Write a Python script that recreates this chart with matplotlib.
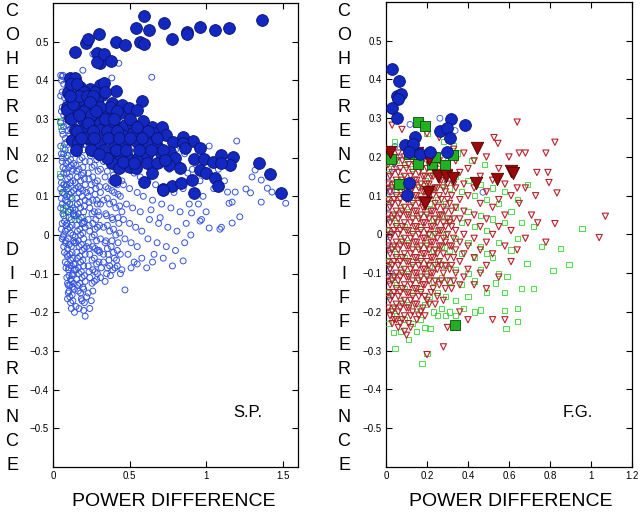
import numpy as np
import matplotlib
matplotlib.use("Agg")
import matplotlib.pyplot as plt

plt.rcParams['font.family'] = ['Liberation Sans', 'DejaVu Sans']

# ---------------- S.P. panel data (power diff, coherence diff) ----------------
sp_filled = [
    (0.143, 0.473), (0.215, 0.496), (0.23, 0.506), (0.30, 0.519), (0.286, 0.47),
    (0.31, 0.444), (0.286, 0.447), (0.33, 0.467), (0.378, 0.45), (0.41, 0.499),
    (0.47, 0.491), (0.54, 0.535), (0.593, 0.566), (0.63, 0.530), (0.566, 0.50),
    (0.593, 0.494), (0.723, 0.548), (0.78, 0.506), (0.876, 0.525), (0.876, 0.519),
    (0.957, 0.538), (1.055, 0.53), (1.148, 0.535), (1.367, 0.556),
    (0.11, 0.405), (0.143, 0.405), (0.10, 0.37), (0.176, 0.383), (0.241, 0.377),
    (0.306, 0.388), (0.332, 0.393), (0.41, 0.373), (0.319, 0.362), (0.13, 0.357),
    (0.195, 0.349), (0.286, 0.349), (0.384, 0.341), (0.45, 0.336), (0.58, 0.346),
    (0.091, 0.331), (0.156, 0.323), (0.228, 0.331), (0.286, 0.305), (0.35, 0.318),
    (0.436, 0.315), (0.495, 0.328), (0.547, 0.323), (0.11, 0.302), (0.195, 0.297),
    (0.241, 0.279), (0.306, 0.289), (0.39, 0.289), (0.47, 0.284), (0.52, 0.284),
    (0.586, 0.295), (0.645, 0.279), (0.71, 0.279), (0.143, 0.271), (0.208, 0.276),
    (0.306, 0.271), (0.384, 0.263), (0.45, 0.258), (0.52, 0.263), (0.586, 0.263),
    (0.651, 0.263), (0.736, 0.258), (0.124, 0.245), (0.163, 0.24), (0.234, 0.248),
    (0.306, 0.238), (0.404, 0.233), (0.47, 0.235), (0.547, 0.24), (0.612, 0.238),
    (0.677, 0.23), (0.782, 0.24), (0.847, 0.253), (0.912, 0.243), (0.847, 0.238),
    (0.371, 0.2), (0.436, 0.207), (0.489, 0.2), (0.554, 0.2), (0.612, 0.207),
    (0.704, 0.212), (0.762, 0.214), (0.80, 0.2), (0.86, 0.225), (0.92, 0.196),
    (0.957, 0.225), (0.984, 0.196), (1.044, 0.189), (1.10, 0.207), (1.173, 0.202),
    (1.153, 0.181), (1.10, 0.186), (0.384, 0.186), (0.43, 0.173), (0.50, 0.176),
    (0.54, 0.173), (0.612, 0.186), (0.677, 0.186), (0.756, 0.181), (0.827, 0.173),
    (0.957, 0.168), (1.0, 0.16), (0.645, 0.16), (0.404, 0.142), (0.593, 0.137),
    (0.717, 0.119), (0.78, 0.127), (0.834, 0.134), (0.906, 0.142), (0.919, 0.108),
    (1.055, 0.147), (1.075, 0.127), (1.348, 0.186), (1.414, 0.158), (1.49, 0.109),
    (0.091, 0.323), (0.221, 0.253), (0.274, 0.37), (0.717, 0.116),
    # dense core of the big-circle cluster
    (0.12, 0.39), (0.16, 0.39), (0.20, 0.37), (0.13, 0.34), (0.17, 0.36), (0.22, 0.36),
    (0.26, 0.36), (0.34, 0.37), (0.37, 0.33), (0.20, 0.32), (0.25, 0.31), (0.31, 0.33),
    (0.42, 0.32), (0.12, 0.30), (0.17, 0.31), (0.23, 0.29), (0.34, 0.30), (0.40, 0.30),
    (0.50, 0.30), (0.16, 0.27), (0.26, 0.27), (0.35, 0.27), (0.42, 0.27), (0.55, 0.28),
    (0.62, 0.27), (0.18, 0.25), (0.27, 0.25), (0.36, 0.25), (0.43, 0.25), (0.50, 0.25),
    (0.58, 0.25), (0.68, 0.25), (0.15, 0.22), (0.25, 0.22), (0.33, 0.22), (0.41, 0.22),
    (0.48, 0.22), (0.56, 0.22), (0.64, 0.22), (0.72, 0.22), (0.35, 0.20), (0.46, 0.19),
    (0.53, 0.185), (0.73, 0.195), (0.30, 0.21), (0.24, 0.345), (0.28, 0.32), (0.11, 0.36),
]

sp_open = [
    # x ~ 0.05-0.1
    (0.06, 0.41), (0.07, 0.39), (0.05, 0.36), (0.06, 0.33), (0.07, 0.31), (0.05, 0.29),
    (0.06, 0.27), (0.08, 0.25), (0.05, 0.23), (0.07, 0.21), (0.06, 0.19), (0.08, 0.17),
    (0.05, 0.15), (0.07, 0.13), (0.06, 0.11), (0.08, 0.09), (0.05, 0.07), (0.07, 0.05),
    (0.06, 0.03), (0.08, 0.01), (0.06, -0.01), (0.07, -0.03), (0.09, -0.05), (0.08, -0.07),
    (0.10, -0.09), (0.09, -0.11), (0.10, -0.13), (0.10, -0.15), (0.11, -0.16), (0.06, 0.37),
    (0.07, 0.28), (0.06, 0.20), (0.07, 0.16), (0.05, 0.12), (0.06, 0.08), (0.07, 0.0),
    (0.08, -0.02), (0.05, 0.413), (0.065, 0.413),
    (0.055, 0.40), (0.075, 0.355), (0.085, 0.34), (0.055, 0.32), (0.085, 0.30), (0.065, 0.26),
    (0.075, 0.235), (0.055, 0.21), (0.085, 0.185), (0.065, 0.175), (0.055, 0.135), (0.085, 0.125),
    (0.075, 0.105), (0.055, 0.095), (0.085, 0.075), (0.065, 0.055), (0.075, 0.035), (0.055, 0.015),
    (0.085, 0.025), (0.065, -0.005), (0.085, -0.015), (0.075, -0.045), (0.095, -0.035),
    (0.085, -0.085), (0.095, -0.075), (0.105, -0.105), (0.095, -0.125), (0.105, -0.145),
    (0.115, -0.175), (0.095, -0.165), (0.125, -0.155),
    # x ~ 0.08-0.14
    (0.09, 0.40), (0.11, 0.38), (0.10, 0.35), (0.12, 0.34), (0.09, 0.32), (0.11, 0.30),
    (0.13, 0.28), (0.10, 0.27), (0.12, 0.25), (0.09, 0.24), (0.11, 0.22), (0.13, 0.21),
    (0.10, 0.19), (0.12, 0.18), (0.09, 0.16), (0.11, 0.15), (0.13, 0.14), (0.10, 0.12),
    (0.12, 0.11), (0.09, 0.10), (0.11, 0.08), (0.13, 0.07), (0.10, 0.06), (0.12, 0.04),
    (0.09, 0.03), (0.11, 0.02), (0.13, 0.0), (0.10, -0.01), (0.12, -0.03), (0.11, -0.05),
    (0.13, -0.06), (0.12, -0.08), (0.13, -0.10), (0.12, -0.12), (0.14, -0.14), (0.13, -0.17),
    (0.14, -0.20), (0.12, -0.19), (0.11, -0.13), (0.14, -0.09), (0.09, 0.13), (0.13, 0.17),
    (0.11, 0.26), (0.14, 0.31), (0.08, 0.22), (0.14, 0.05), (0.14, -0.02),
    (0.095, 0.385), (0.105, 0.365), (0.125, 0.365), (0.115, 0.335), (0.135, 0.325),
    (0.105, 0.315), (0.125, 0.295), (0.095, 0.285), (0.115, 0.275), (0.135, 0.255),
    (0.105, 0.245), (0.125, 0.235), (0.095, 0.205), (0.115, 0.195), (0.135, 0.185),
    (0.105, 0.175), (0.125, 0.165), (0.095, 0.145), (0.115, 0.135), (0.135, 0.115),
    (0.105, 0.105), (0.125, 0.095), (0.095, 0.085), (0.115, 0.065), (0.135, 0.055),
    (0.105, 0.045), (0.125, 0.025), (0.095, 0.015), (0.115, 0.005), (0.135, -0.015),
    (0.105, -0.025), (0.125, -0.045), (0.095, -0.055), (0.115, -0.065), (0.135, -0.075),
    (0.105, -0.085), (0.125, -0.105), (0.115, -0.115), (0.135, -0.125), (0.125, -0.135),
    # x ~ 0.14-0.22
    (0.15, 0.39), (0.17, 0.37), (0.19, 0.38), (0.16, 0.35), (0.18, 0.33), (0.21, 0.34),
    (0.15, 0.31), (0.17, 0.29), (0.20, 0.30), (0.16, 0.27), (0.19, 0.26), (0.21, 0.25),
    (0.15, 0.24), (0.18, 0.23), (0.20, 0.22), (0.16, 0.21), (0.19, 0.20), (0.21, 0.19),
    (0.15, 0.18), (0.17, 0.17), (0.20, 0.16), (0.16, 0.15), (0.18, 0.14), (0.21, 0.13),
    (0.15, 0.12), (0.17, 0.11), (0.19, 0.10), (0.21, 0.09), (0.16, 0.08), (0.18, 0.07),
    (0.20, 0.06), (0.15, 0.05), (0.17, 0.04), (0.19, 0.03), (0.21, 0.02), (0.16, 0.01),
    (0.18, 0.0), (0.20, -0.01), (0.15, -0.02), (0.17, -0.03), (0.19, -0.04), (0.21, -0.05),
    (0.16, -0.06), (0.18, -0.07), (0.20, -0.08), (0.15, -0.09), (0.17, -0.10), (0.19, -0.11),
    (0.21, -0.12), (0.16, -0.13), (0.18, -0.15), (0.20, -0.14), (0.17, -0.19), (0.19, -0.17),
    (0.21, -0.21), (0.22, -0.16), (0.18, 0.12), (0.20, 0.03), (0.22, 0.11), (0.22, -0.03),
    (0.195, 0.426),
    (0.145, 0.365), (0.165, 0.33), (0.185, 0.355), (0.205, 0.32), (0.145, 0.29), (0.175, 0.275),
    (0.195, 0.285), (0.155, 0.255), (0.185, 0.245), (0.205, 0.235), (0.145, 0.215),
    (0.175, 0.195), (0.195, 0.175), (0.155, 0.165), (0.185, 0.155), (0.205, 0.145),
    (0.145, 0.135), (0.165, 0.125), (0.195, 0.115), (0.155, 0.095), (0.175, 0.085),
    (0.205, 0.075), (0.145, 0.065), (0.165, 0.055), (0.185, 0.045), (0.205, 0.035),
    (0.155, 0.025), (0.175, 0.015), (0.195, 0.005), (0.145, -0.005), (0.165, -0.015),
    (0.185, -0.025), (0.205, -0.035), (0.155, -0.045), (0.175, -0.055), (0.195, -0.065),
    (0.145, -0.075), (0.165, -0.085), (0.185, -0.095), (0.205, -0.105), (0.155, -0.115),
    (0.175, -0.125), (0.195, -0.135), (0.165, -0.145), (0.185, -0.165), (0.205, -0.175),
    (0.15, -0.185), (0.20, -0.195),
    # x ~ 0.22-0.32
    (0.23, 0.37), (0.26, 0.36), (0.29, 0.35), (0.24, 0.32), (0.27, 0.31), (0.31, 0.32),
    (0.23, 0.29), (0.26, 0.28), (0.29, 0.27), (0.25, 0.25), (0.28, 0.24), (0.31, 0.23),
    (0.23, 0.22), (0.26, 0.21), (0.30, 0.20), (0.24, 0.19), (0.27, 0.18), (0.31, 0.17),
    (0.23, 0.16), (0.26, 0.15), (0.29, 0.14), (0.25, 0.13), (0.28, 0.12), (0.31, 0.11),
    (0.23, 0.10), (0.26, 0.09), (0.29, 0.08), (0.24, 0.07), (0.27, 0.06), (0.30, 0.05),
    (0.23, 0.04), (0.26, 0.03), (0.29, 0.02), (0.24, 0.01), (0.27, 0.0), (0.31, -0.01),
    (0.23, -0.02), (0.26, -0.03), (0.29, -0.04), (0.24, -0.05), (0.27, -0.06), (0.30, -0.07),
    (0.23, -0.08), (0.26, -0.09), (0.29, -0.10), (0.24, -0.11), (0.27, -0.12), (0.31, -0.11),
    (0.23, -0.15), (0.25, -0.17), (0.24, -0.19), (0.28, 0.04), (0.31, 0.08), (0.30, -0.04),
    (0.26, 0.468),
    (0.245, 0.345), (0.275, 0.33), (0.235, 0.305), (0.265, 0.295), (0.295, 0.29), (0.245, 0.265),
    (0.275, 0.255), (0.305, 0.255), (0.235, 0.235), (0.265, 0.225), (0.295, 0.215),
    (0.245, 0.205), (0.285, 0.195), (0.255, 0.175), (0.295, 0.165), (0.235, 0.145),
    (0.275, 0.135), (0.305, 0.125), (0.245, 0.115), (0.275, 0.105), (0.235, 0.085),
    (0.285, 0.09), (0.255, 0.055), (0.295, 0.06), (0.235, 0.025), (0.275, 0.015),
    (0.305, 0.025), (0.255, -0.005), (0.285, -0.015), (0.235, -0.035), (0.275, -0.035),
    (0.305, -0.045), (0.255, -0.065), (0.285, -0.075), (0.235, -0.095), (0.275, -0.095),
    (0.315, -0.085), (0.255, -0.125), (0.285, -0.115), (0.26, -0.145),
    # x ~ 0.32-0.45
    (0.34, 0.30), (0.38, 0.28), (0.42, 0.29), (0.33, 0.26), (0.36, 0.25), (0.40, 0.24),
    (0.44, 0.25), (0.35, 0.22), (0.39, 0.21), (0.43, 0.20), (0.33, 0.19), (0.37, 0.18),
    (0.41, 0.17), (0.45, 0.18), (0.34, 0.15), (0.38, 0.14), (0.42, 0.13), (0.36, 0.12),
    (0.40, 0.11), (0.44, 0.10), (0.33, 0.09), (0.37, 0.08), (0.41, 0.07), (0.45, 0.06),
    (0.35, 0.05), (0.39, 0.04), (0.43, 0.03), (0.33, 0.02), (0.37, 0.01), (0.41, 0.0),
    (0.34, -0.02), (0.38, -0.03), (0.42, -0.04), (0.36, -0.05), (0.40, -0.06), (0.44, -0.05),
    (0.33, -0.07), (0.37, -0.08), (0.42, -0.08), (0.35, -0.10), (0.39, -0.09), (0.44, -0.10),
    (0.34, -0.12), (0.45, 0.14), (0.33, -0.05), (0.384, 0.406), (0.43, 0.444),
    (0.355, 0.28), (0.395, 0.26), (0.345, 0.235), (0.375, 0.225), (0.415, 0.215), (0.355, 0.195),
    (0.395, 0.185), (0.435, 0.165), (0.355, 0.165), (0.395, 0.155), (0.345, 0.125),
    (0.385, 0.115), (0.425, 0.105), (0.355, 0.095), (0.395, 0.085), (0.435, 0.075),
    (0.345, 0.055), (0.385, 0.045), (0.425, 0.045), (0.355, 0.025), (0.395, 0.015),
    (0.435, 0.005), (0.345, -0.015), (0.385, -0.015), (0.425, -0.02), (0.355, -0.035),
    (0.395, -0.045), (0.365, -0.065), (0.415, -0.065), (0.355, -0.085), (0.405, -0.085),
    (0.375, -0.105),
    # x ~ 0.45-0.6
    (0.47, 0.27), (0.52, 0.26), (0.57, 0.25), (0.46, 0.22), (0.50, 0.21), (0.55, 0.22),
    (0.59, 0.20), (0.48, 0.17), (0.53, 0.16), (0.57, 0.15), (0.46, 0.13), (0.50, 0.12),
    (0.55, 0.11), (0.59, 0.10), (0.48, 0.08), (0.52, 0.07), (0.57, 0.06), (0.46, 0.04),
    (0.50, 0.03), (0.54, 0.02), (0.58, 0.01), (0.47, -0.01), (0.51, -0.02), (0.55, -0.03),
    (0.49, -0.05), (0.53, -0.07), (0.58, -0.06), (0.45, -0.09), (0.51, -0.085), (0.47, -0.142),
    (0.55, -0.075), (0.645, 0.408),
    # x ~ 0.6-0.9
    (0.62, 0.24), (0.68, 0.23), (0.74, 0.27), (0.80, 0.22), (0.86, 0.21), (0.64, 0.19),
    (0.70, 0.18), (0.76, 0.17), (0.83, 0.18), (0.88, 0.16), (0.62, 0.14), (0.67, 0.13),
    (0.73, 0.12), (0.79, 0.11), (0.85, 0.12), (0.65, 0.09), (0.71, 0.08), (0.77, 0.07),
    (0.83, 0.06), (0.89, 0.08), (0.63, 0.04), (0.69, 0.03), (0.75, 0.02), (0.81, 0.01),
    (0.87, 0.03), (0.62, -0.01), (0.68, -0.02), (0.74, -0.03), (0.80, -0.04), (0.86, -0.02),
    (0.612, -0.085), (0.65, -0.07), (0.78, -0.08), (0.85, -0.067), (0.66, -0.05), (0.72, -0.06),
    (0.64, 0.065), (0.70, 0.045),
    # x ~ 0.9-1.55
    (0.91, 0.17), (0.96, 0.14), (1.02, 0.23), (0.98, 0.10), (1.05, 0.12), (1.09, 0.015),
    (1.10, 0.02), (1.02, 0.018), (0.97, 0.04), (0.905, 0.057), (1.14, 0.111), (1.15, 0.082),
    (1.17, 0.085), (1.19, 0.111), (1.20, 0.243), (1.22, 0.047), (1.26, 0.119), (1.29, 0.109),
    (1.30, 0.15), (1.32, 0.168), (1.36, 0.142), (1.36, 0.085), (1.40, 0.121), (1.43, 0.111),
    (1.52, 0.082), (1.17, 0.031), (0.96, 0.036), (0.90, 0.0), (0.93, 0.20), (1.08, 0.17),
    (0.95, 0.08), (1.00, 0.06), (1.12, 0.14), (1.06, 0.19),
]

sp_green = [
    (0.046, 0.297), (0.05, 0.28), (0.06, 0.225), (0.08, 0.20), (0.046, 0.16), (0.06, 0.11),
    (0.07, 0.13), (0.06, 0.07), (0.065, 0.065), (0.09, 0.12), (0.10, 0.06), (0.13, 0.057),
    (0.14, 0.04), (0.11, 0.10), (0.19, 0.047), (0.44, 0.285), (0.08, 0.05), (0.12, 0.08),
]

# ---------------- F.G. panel data ----------------
fg_blue_filled = [
    (0.03, 0.426), (0.063, 0.395), (0.053, 0.357), (0.073, 0.362), (0.058, 0.349),
    (0.03, 0.326), (0.053, 0.30), (0.317, 0.297), (0.385, 0.282), (0.263, 0.266),
    (0.298, 0.274), (0.312, 0.248), (0.141, 0.251), (0.093, 0.23), (0.132, 0.233),
    (0.112, 0.214), (0.166, 0.207), (0.215, 0.212), (0.298, 0.212), (0.112, 0.132),
    (0.102, 0.103),
]

fg_green_filled = [
    (0.156, 0.29), (0.19, 0.279), (0.024, 0.194), (0.112, 0.207), (0.156, 0.183),
    (0.224, 0.181), (0.239, 0.199), (0.288, 0.178), (0.327, 0.204), (0.063, 0.129),
    (0.337, -0.233),
]

fg_red_filled = [
    (0.02, 0.212), (0.151, 0.209), (0.21, 0.196), (0.444, 0.222), (0.254, 0.15),
    (0.293, 0.152), (0.327, 0.147), (0.439, 0.132), (0.541, 0.142), (0.61, 0.165),
    (0.62, 0.158), (0.205, 0.109), (0.19, 0.08),
]

fg_red_open = [
    (0.02, 0.20), (0.02, 0.15), (0.02, 0.11), (0.02, 0.07), (0.02, 0.03), (0.02, -0.01),
    (0.02, -0.05), (0.02, -0.09), (0.02, -0.13), (0.02, -0.17), (0.02, -0.21),
    (0.04, 0.18), (0.04, 0.13), (0.04, 0.09), (0.04, 0.05), (0.04, 0.01), (0.04, -0.03),
    (0.04, -0.07), (0.04, -0.11), (0.04, -0.15), (0.04, -0.19), (0.04, -0.22),
    (0.06, 0.21), (0.06, 0.16), (0.06, 0.12), (0.06, 0.08), (0.06, 0.04), (0.06, 0.0),
    (0.06, -0.04), (0.06, -0.08), (0.06, -0.12), (0.06, -0.16), (0.06, -0.20), (0.06, -0.24),
    (0.08, 0.19), (0.08, 0.14), (0.08, 0.10), (0.08, 0.06), (0.08, 0.02), (0.08, -0.02),
    (0.08, -0.06), (0.08, -0.10), (0.08, -0.14), (0.08, -0.18), (0.08, -0.22),
    (0.10, 0.17), (0.10, 0.13), (0.10, 0.09), (0.10, 0.05), (0.10, 0.01), (0.10, -0.03),
    (0.10, -0.07), (0.10, -0.11), (0.10, -0.15), (0.10, -0.19), (0.10, -0.26),
    (0.12, 0.20), (0.12, 0.15), (0.12, 0.11), (0.12, 0.07), (0.12, 0.03), (0.12, -0.01),
    (0.12, -0.05), (0.12, -0.09), (0.12, -0.13), (0.12, -0.17), (0.12, -0.21), (0.12, -0.24),
    (0.14, 0.18), (0.14, 0.14), (0.14, 0.10), (0.14, 0.06), (0.14, 0.02), (0.14, -0.02),
    (0.14, -0.06), (0.14, -0.10), (0.14, -0.14), (0.14, -0.18),
    (0.16, 0.16), (0.16, 0.12), (0.16, 0.08), (0.16, 0.04), (0.16, 0.0), (0.16, -0.04),
    (0.16, -0.08), (0.16, -0.12), (0.16, -0.16), (0.16, -0.21),
    (0.18, 0.19), (0.18, 0.15), (0.18, 0.11), (0.18, 0.07), (0.18, 0.03), (0.18, -0.01),
    (0.18, -0.05), (0.18, -0.09), (0.18, -0.13), (0.18, -0.19),
    (0.20, 0.17), (0.20, 0.13), (0.20, 0.09), (0.20, 0.05), (0.20, 0.01), (0.20, -0.03),
    (0.20, -0.07), (0.20, -0.11), (0.20, -0.17), (0.20, -0.31),
    (0.22, 0.20), (0.22, 0.15), (0.22, 0.11), (0.22, 0.06), (0.22, 0.02), (0.22, -0.02),
    (0.22, -0.06), (0.22, -0.10), (0.22, -0.15),
    (0.24, 0.17), (0.24, 0.12), (0.24, 0.08), (0.24, 0.04), (0.24, 0.0), (0.24, -0.04),
    (0.24, -0.08), (0.24, -0.12), (0.24, -0.18),
    (0.26, 0.19), (0.26, 0.14), (0.26, 0.10), (0.26, 0.05), (0.26, 0.01), (0.26, -0.03),
    (0.26, -0.07), (0.26, -0.13),
    (0.28, 0.16), (0.28, 0.12), (0.28, 0.07), (0.28, 0.03), (0.28, -0.01), (0.28, -0.05),
    (0.28, -0.10), (0.28, -0.17), (0.28, -0.29),
    (0.30, 0.18), (0.30, 0.13), (0.30, 0.09), (0.30, 0.04), (0.30, 0.0), (0.30, -0.06),
    (0.30, -0.12), (0.30, -0.24),
    (0.32, 0.15), (0.32, 0.10), (0.32, 0.06), (0.32, 0.02), (0.32, -0.03), (0.32, -0.08),
    (0.32, -0.14),
    (0.34, 0.19), (0.34, 0.12), (0.34, 0.07), (0.34, 0.01), (0.34, -0.04), (0.34, -0.10),
    (0.36, 0.16), (0.36, 0.09), (0.36, 0.04), (0.36, -0.02), (0.36, -0.07), (0.36, -0.13),
    (0.36, -0.20),
    (0.38, 0.21), (0.38, 0.13), (0.38, 0.06), (0.38, 0.0), (0.38, -0.05), (0.38, -0.11),
    (0.40, 0.17), (0.40, 0.10), (0.40, 0.03), (0.40, -0.03), (0.40, -0.09), (0.40, -0.22),
    (0.43, 0.19), (0.43, 0.12), (0.43, 0.05), (0.43, -0.01), (0.43, -0.06), (0.43, -0.13),
    (0.46, 0.15), (0.46, 0.08), (0.46, 0.02), (0.46, -0.04), (0.46, -0.10),
    (0.49, 0.20), (0.49, 0.11), (0.49, 0.04), (0.49, -0.02), (0.49, -0.08), (0.49, -0.14),
    (0.527, 0.25), (0.52, 0.14), (0.52, 0.07), (0.52, 0.0), (0.52, -0.05), (0.52, -0.22),
    (0.546, 0.235), (0.55, 0.17), (0.55, 0.09), (0.55, 0.02), (0.55, -0.11),
    (0.58, 0.13), (0.58, 0.05), (0.58, -0.03), (0.58, -0.22),
    (0.60, 0.20), (0.61, 0.10), (0.61, 0.01), (0.61, -0.07),
    (0.64, 0.29), (0.65, 0.21), (0.64, 0.12), (0.65, 0.08), (0.64, -0.04),
    (0.68, 0.21), (0.68, 0.12), (0.71, 0.05), (0.68, -0.01),
    (0.736, 0.16), (0.73, 0.10), (0.74, 0.03),
    (0.78, 0.21), (0.79, 0.16), (0.795, 0.134), (0.78, -0.02),
    (0.834, 0.107), (0.824, 0.238), (0.824, 0.028),
    (1.04, -0.008), (1.07, 0.047),
    (0.03, 0.282), (0.078, 0.271), (0.20, 0.26), (0.26, 0.25), (0.15, 0.24), (0.33, 0.22),
]

# second, staggered layer of the dense red core
fg_red_core = [
    (0.01, 0.18), (0.01, 0.13), (0.01, 0.09), (0.01, 0.05), (0.01, 0.01), (0.01, -0.03),
    (0.01, -0.07), (0.01, -0.11), (0.01, -0.15), (0.01, -0.19),
    (0.03, 0.16), (0.03, 0.12), (0.03, 0.08), (0.03, 0.04), (0.03, 0.0), (0.03, -0.04),
    (0.03, -0.08), (0.03, -0.12), (0.03, -0.16), (0.03, -0.20), (0.03, -0.23),
    (0.05, 0.19), (0.05, 0.14), (0.05, 0.10), (0.05, 0.06), (0.05, 0.02), (0.05, -0.02),
    (0.05, -0.06), (0.05, -0.10), (0.05, -0.14), (0.05, -0.18), (0.05, -0.22),
    (0.07, 0.17), (0.07, 0.13), (0.07, 0.09), (0.07, 0.05), (0.07, 0.01), (0.07, -0.03),
    (0.07, -0.07), (0.07, -0.11), (0.07, -0.15), (0.07, -0.19), (0.07, -0.23),
    (0.09, 0.20), (0.09, 0.15), (0.09, 0.11), (0.09, 0.07), (0.09, 0.03), (0.09, -0.01),
    (0.09, -0.05), (0.09, -0.09), (0.09, -0.13), (0.09, -0.17), (0.09, -0.21), (0.09, -0.25),
    (0.11, 0.18), (0.11, 0.13), (0.11, 0.09), (0.11, 0.05), (0.11, 0.01), (0.11, -0.03),
    (0.11, -0.07), (0.11, -0.11), (0.11, -0.15), (0.11, -0.19), (0.11, -0.23),
    (0.13, 0.16), (0.13, 0.12), (0.13, 0.08), (0.13, 0.04), (0.13, 0.0), (0.13, -0.04),
    (0.13, -0.08), (0.13, -0.12), (0.13, -0.16), (0.13, -0.20),
    (0.15, 0.19), (0.15, 0.14), (0.15, 0.10), (0.15, 0.06), (0.15, 0.02), (0.15, -0.02),
    (0.15, -0.06), (0.15, -0.10), (0.15, -0.14), (0.15, -0.18), (0.15, -0.22),
    (0.17, 0.17), (0.17, 0.13), (0.17, 0.09), (0.17, 0.05), (0.17, 0.01), (0.17, -0.03),
    (0.17, -0.07), (0.17, -0.11), (0.17, -0.15), (0.17, -0.20),
    (0.19, 0.15), (0.19, 0.11), (0.19, 0.07), (0.19, 0.03), (0.19, -0.01), (0.19, -0.05),
    (0.19, -0.09), (0.19, -0.13), (0.19, -0.16), (0.19, -0.21),
    (0.21, 0.18), (0.21, 0.13), (0.21, 0.09), (0.21, 0.04), (0.21, 0.0), (0.21, -0.04),
    (0.21, -0.08), (0.21, -0.12), (0.21, -0.18),
    (0.23, 0.15), (0.23, 0.10), (0.23, 0.06), (0.23, 0.02), (0.23, -0.02), (0.23, -0.06),
    (0.23, -0.10), (0.23, -0.14),
    (0.25, 0.16), (0.25, 0.12), (0.25, 0.07), (0.25, 0.03), (0.25, -0.01), (0.25, -0.05),
    (0.25, -0.09), (0.25, -0.16),
    (0.27, 0.14), (0.27, 0.09), (0.27, 0.05), (0.27, 0.01), (0.27, -0.03), (0.27, -0.08),
    (0.27, -0.12),
    (0.29, 0.11), (0.29, 0.06), (0.29, 0.02), (0.29, -0.02), (0.29, -0.08), (0.29, -0.14),
    (0.31, 0.16), (0.31, 0.08), (0.31, 0.03), (0.31, -0.03), (0.31, -0.09),
    (0.33, 0.13), (0.33, 0.04), (0.33, -0.01), (0.33, -0.06), (0.33, -0.12),
]

fg_green_open = [
    (0.04, 0.24), (0.10, 0.22), (0.20, 0.26), (0.28, 0.24), (0.33, 0.23), (0.35, 0.21),
    (0.42, 0.19), (0.48, 0.18), (0.30, 0.19),
    (0.01, 0.17), (0.01, 0.09), (0.01, 0.01), (0.01, -0.07), (0.01, -0.15), (0.01, -0.23),
    (0.03, 0.13), (0.03, 0.05), (0.03, -0.03), (0.03, -0.11), (0.03, -0.19), (0.035, -0.253),
    (0.044, -0.295),
    (0.05, 0.19), (0.05, 0.11), (0.05, 0.03), (0.05, -0.05), (0.05, -0.13), (0.05, -0.21),
    (0.07, 0.15), (0.07, 0.07), (0.07, -0.01), (0.07, -0.09), (0.07, -0.17), (0.07, -0.25),
    (0.09, 0.18), (0.09, 0.10), (0.09, 0.02), (0.09, -0.06), (0.09, -0.14), (0.09, -0.22),
    (0.11, 0.14), (0.11, 0.06), (0.11, -0.02), (0.11, -0.10), (0.11, -0.18), (0.11, -0.27),
    (0.13, 0.17), (0.13, 0.09), (0.13, 0.01), (0.13, -0.07), (0.13, -0.15), (0.13, -0.23),
    (0.15, 0.13), (0.15, 0.05), (0.15, -0.03), (0.15, -0.11), (0.15, -0.19), (0.15, -0.25),
    (0.17, 0.18), (0.17, 0.10), (0.17, 0.02), (0.17, -0.06), (0.17, -0.14), (0.17, -0.22),
    (0.176, -0.333),
    (0.19, 0.14), (0.19, 0.06), (0.19, -0.02), (0.19, -0.10), (0.19, -0.18), (0.19, -0.24),
    (0.20, -0.307),
    (0.21, 0.16), (0.21, 0.08), (0.21, 0.0), (0.21, -0.08), (0.21, -0.16), (0.215, -0.243),
    (0.23, 0.12), (0.23, 0.04), (0.23, -0.04), (0.23, -0.12), (0.23, -0.20),
    (0.25, 0.17), (0.25, 0.09), (0.25, 0.01), (0.25, -0.07), (0.25, -0.15), (0.25, -0.21),
    (0.27, 0.13), (0.27, 0.05), (0.27, -0.03), (0.27, -0.11), (0.27, -0.19),
    (0.29, 0.16), (0.29, 0.08), (0.29, 0.0), (0.29, -0.08), (0.29, -0.16), (0.29, -0.21),
    (0.31, 0.12), (0.31, 0.04), (0.31, -0.04), (0.31, -0.12), (0.31, -0.20),
    (0.34, 0.15), (0.34, 0.07), (0.34, -0.01), (0.34, -0.09), (0.34, -0.17), (0.34, -0.21),
    (0.37, 0.11), (0.37, 0.03), (0.37, -0.05), (0.37, -0.13), (0.38, -0.19),
    (0.40, 0.14), (0.40, 0.06), (0.40, -0.02), (0.40, -0.10), (0.40, -0.16),
    (0.43, 0.10), (0.43, 0.02), (0.43, -0.06), (0.43, -0.12), (0.43, -0.20),
    (0.46, 0.13), (0.46, 0.05), (0.46, -0.03), (0.46, -0.09), (0.46, -0.195),
    (0.49, 0.09), (0.49, 0.01), (0.49, -0.05), (0.49, -0.15),
    (0.52, 0.12), (0.52, 0.04), (0.52, -0.06), (0.535, -0.125),
    (0.55, 0.08), (0.55, -0.02), (0.55, -0.10),
    (0.58, 0.11), (0.58, 0.03), (0.58, -0.15), (0.58, -0.196), (0.585, -0.243),
    (0.61, 0.06), (0.61, -0.04), (0.59, -0.108),
    (0.64, 0.09), (0.64, -0.01), (0.64, -0.19), (0.64, -0.225),
    (0.66, -0.14), (0.66, 0.03), (0.69, 0.13), (0.688, -0.075),
    (0.72, -0.14), (0.72, 0.02), (0.76, -0.03), (0.815, -0.093), (0.85, -0.036),
    (0.893, -0.077), (0.956, 0.016),
]

fg_blue_open = [
    (0.01, 0.15), (0.02, 0.11), (0.01, 0.07), (0.005, 0.04), (0.02, 0.0), (0.01, -0.04),
    (0.005, -0.08), (0.02, -0.10), (0.01, -0.12), (0.03, 0.13), (0.02, 0.20), (0.04, 0.17),
    (0.263, 0.30), (0.117, 0.284), (0.337, 0.268), (0.044, 0.227), (0.06, 0.20),
    (0.473, 0.109), (0.01, -0.02), (0.015, 0.09), (0.005, 0.12), (0.01, -0.16),
]

x_ticks_sp = [0, 0.5, 1, 1.5]
x_ticks_fg = [0, 0.2, 0.4, 0.6, 0.8, 1, 1.2]
y_ticks = [-0.5, -0.4, -0.3, -0.2, -0.1, 0, 0.1, 0.2, 0.3, 0.4, 0.5]

BLUE_FILL = '#1228c0'
BLUE_EDGE = '#0a1470'
BLUE_OPEN = '#3353e0'
RED_FILL = '#9a0a0a'
RED_EDGE = '#4a0000'
RED_OPEN = '#b8202c'
GREEN_FILL = '#22b022'
GREEN_EDGE = '#0a4a0a'
GREEN_OPEN = '#30d830'


def pts(lst):
    a = np.array(lst)
    return a[:, 0], a[:, 1]


fig = plt.figure(figsize=(6.4, 5.15), dpi=100)
ax1 = fig.add_axes([0.0828, 0.0932, 0.3828, 0.901])
ax2 = fig.add_axes([0.6031, 0.0932, 0.3844, 0.903])


def style(ax, xlim, xticks):
    ax.set_xlim(*xlim)
    ax.set_ylim(-0.6, 0.6)
    ax.set_xticks(xticks)
    ax.set_xticklabels([f'{t:g}' for t in xticks])
    ax.set_yticks(y_ticks)
    ax.set_yticklabels([f'{t:g}'.replace('-', '\u2212') for t in y_ticks])
    ax.tick_params(direction='in', length=4, width=0.8, labelsize=7,
                   top=True, right=True, pad=3)
    for s in ax.spines.values():
        s.set_linewidth(0.9)


# S.P.
x, y = pts(sp_green)
ax1.scatter(x, y, s=14, marker='s', facecolors='none', edgecolors=GREEN_OPEN, linewidths=0.6, zorder=2)
x, y = pts(sp_open)
ax1.scatter(x, y, s=18, marker='o', facecolors='none', edgecolors=BLUE_OPEN, linewidths=0.7, zorder=3)
x, y = pts(sp_filled)
ax1.scatter(x, y, s=72, marker='o', facecolors=BLUE_FILL, edgecolors=BLUE_EDGE, linewidths=0.6, zorder=4)
style(ax1, (0, 1.6), x_ticks_sp)
ax1.text(1.18, -0.47, 'S.P.', fontsize=12)

# F.G.
x, y = pts(fg_blue_open)
ax2.scatter(x, y, s=18, marker='o', facecolors='none', edgecolors=BLUE_OPEN, linewidths=0.6, zorder=2)
x, y = pts(fg_green_open)
ax2.scatter(x, y, s=14, marker='s', facecolors='none', edgecolors=GREEN_OPEN, linewidths=0.6, zorder=3)
x, y = pts(fg_red_open + fg_red_core)
ax2.scatter(x, y, s=20, marker='v', facecolors='none', edgecolors=RED_OPEN, linewidths=0.8, zorder=3)
x, y = pts(fg_green_filled)
ax2.scatter(x, y, s=48, marker='s', facecolors=GREEN_FILL, edgecolors=GREEN_EDGE, linewidths=0.6, zorder=4)
x, y = pts(fg_red_filled)
ax2.scatter(x, y, s=80, marker='v', facecolors=RED_FILL, edgecolors=RED_EDGE, linewidths=0.6, zorder=4)
x, y = pts(fg_blue_filled)
ax2.scatter(x, y, s=72, marker='o', facecolors=BLUE_FILL, edgecolors=BLUE_EDGE, linewidths=0.6, zorder=5)
style(ax2, (0, 1.2), x_ticks_fg)
ax2.text(0.86, -0.47, 'F.G.', fontsize=12)

# stacked vertical y-labels and x-labels
letters = list('COHERENCE') + [''] + list('DIFFERENCE')
for xc in (12 / 640, 344 / 640):
    for i, ch in enumerate(letters):
        fig.text(xc, 1 - (12 + i * 23.85) / 515, ch, fontsize=13,
                 ha='center', va='center')
for xc in (174 / 640, 511 / 640):
    fig.text(xc, 1 - 502 / 515, 'POWER DIFFERENCE', fontsize=14, ha='center', va='center')

fig.savefig('out.png', dpi=100)
